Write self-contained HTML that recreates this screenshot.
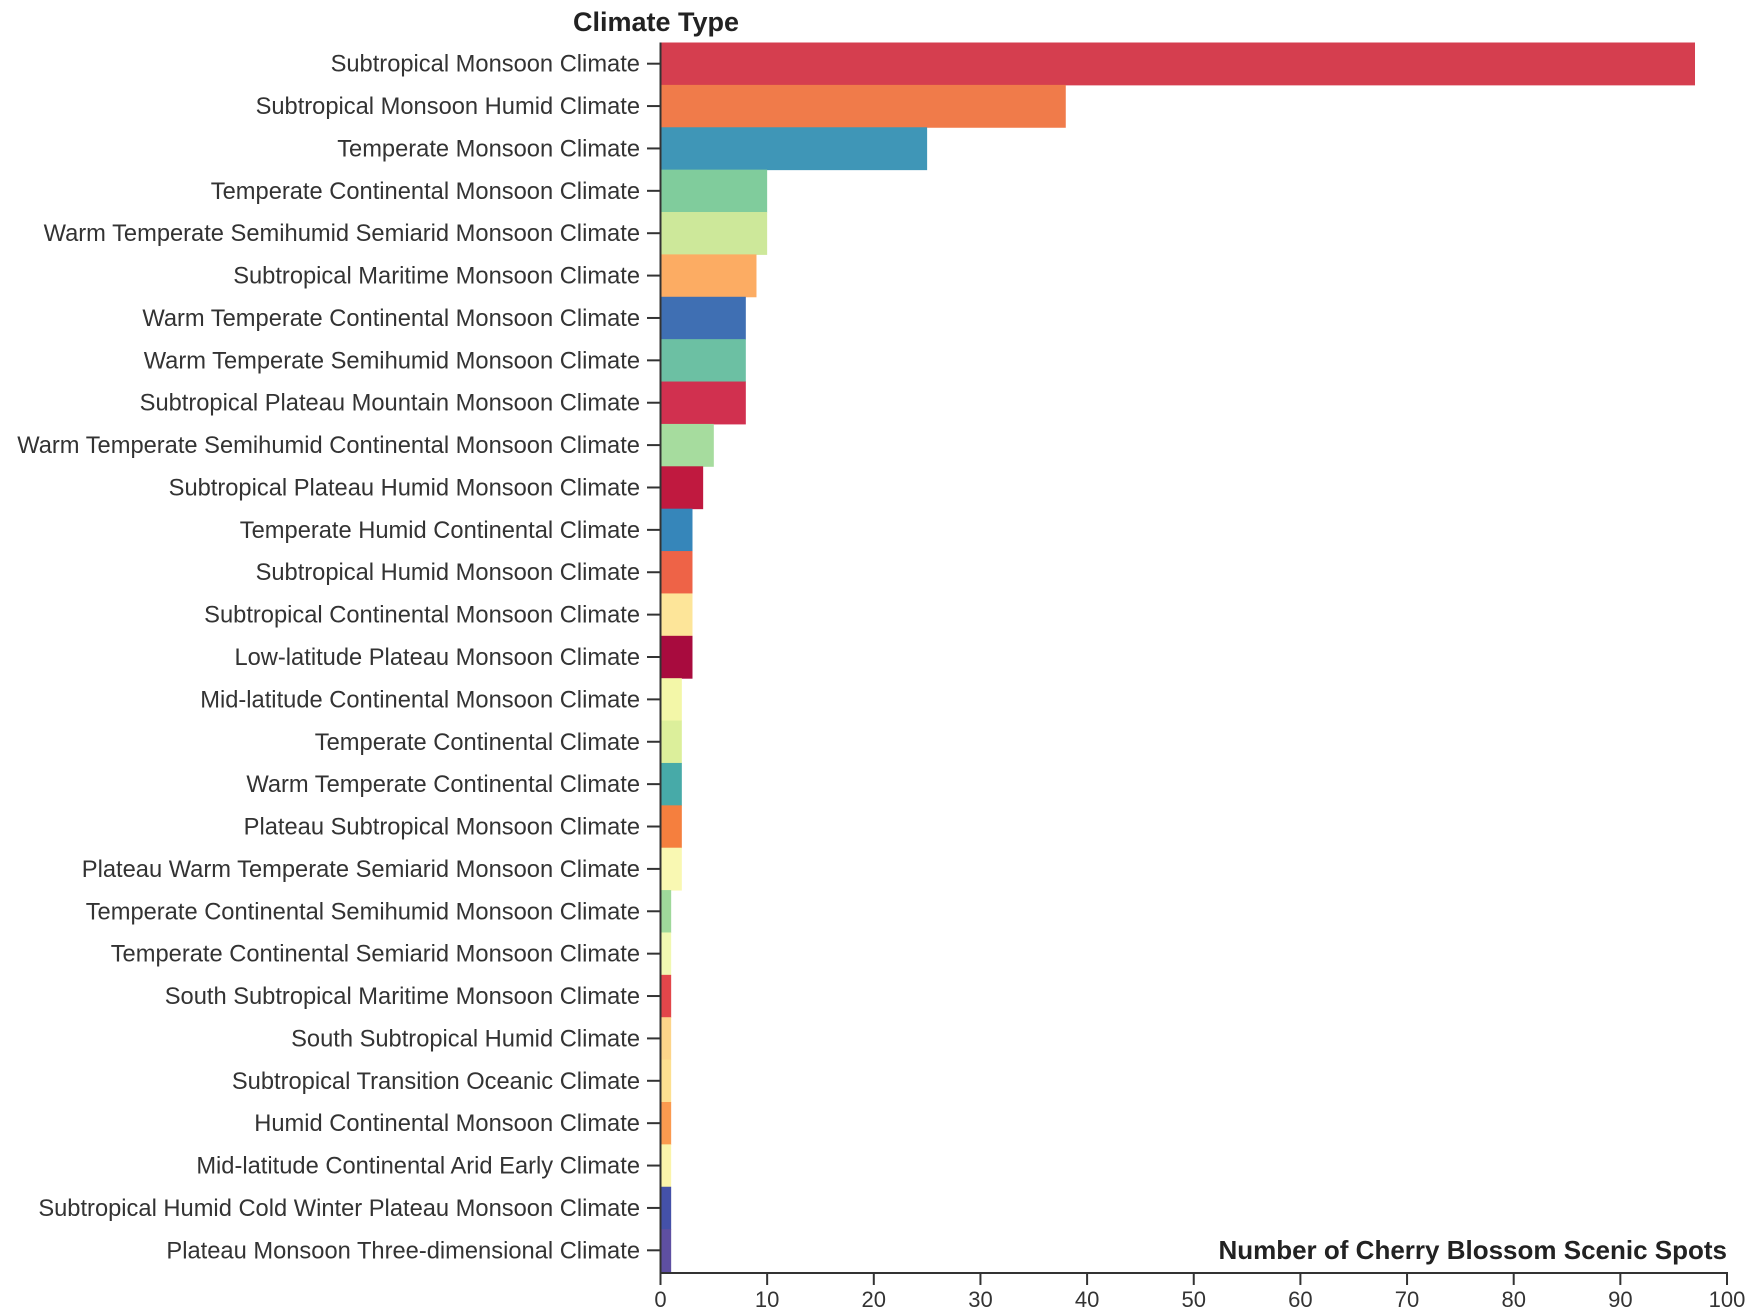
<!DOCTYPE html>
<html><head><meta charset="utf-8">
<style>
html,body{margin:0;padding:0;background:#fff;}
svg{display:block;font-family:"Liberation Sans",sans-serif;}
</style></head>
<body>
<svg id="chart" width="1755" height="1314" viewBox="0 0 1755 1314" xmlns="http://www.w3.org/2000/svg">
<text x="573" y="31" font-size="27" font-weight="bold" fill="#222">Climate Type</text>
<text x="1727" y="1259" font-size="26" font-weight="bold" fill="#222" text-anchor="end">Number of Cherry Blossom Scenic Spots</text>
<g id="bars"></g>
<g id="yaxis"></g>
<g id="xaxis"></g>
</svg>
<script>
const categories = ["Subtropical Monsoon Climate","Subtropical Monsoon Humid Climate","Temperate Monsoon Climate","Temperate Continental Monsoon Climate","Warm Temperate Semihumid Semiarid Monsoon Climate","Subtropical Maritime Monsoon Climate","Warm Temperate Continental Monsoon Climate","Warm Temperate Semihumid Monsoon Climate","Subtropical Plateau Mountain Monsoon Climate","Warm Temperate Semihumid Continental Monsoon Climate","Subtropical Plateau Humid Monsoon Climate","Temperate Humid Continental Climate","Subtropical Humid Monsoon Climate","Subtropical Continental Monsoon Climate","Low-latitude Plateau Monsoon Climate","Mid-latitude Continental Monsoon Climate","Temperate Continental Climate","Warm Temperate Continental Climate","Plateau Subtropical Monsoon Climate","Plateau Warm Temperate Semiarid Monsoon Climate","Temperate Continental Semihumid Monsoon Climate","Temperate Continental Semiarid Monsoon Climate","South Subtropical Maritime Monsoon Climate","South Subtropical Humid Climate","Subtropical Transition Oceanic Climate","Humid Continental Monsoon Climate","Mid-latitude Continental Arid Early Climate","Subtropical Humid Cold Winter Plateau Monsoon Climate","Plateau Monsoon Three-dimensional Climate"];
const values = [97,38,25,10,10,9,8,8,8,5,4,3,3,3,3,2,2,2,2,2,1,1,1,1,1,1,1,1,1];
const colors = ["#d53e4f","#f07b4a","#3f96b7","#80cc9c","#cde89a","#fcac63","#3f6fb3","#6cc0a3","#d1304f","#a6dc9e","#c0193f","#3686ba","#ee6347","#fde599","#a80b3e","#f3f7a8","#dcef9b","#47aaa8","#f57f3e","#f9f8b2","#9fd89b","#f1f8b2","#e2464a","#fdd58a","#fde091","#fb9a4f","#fbf4ab","#4451a8","#5e4fa2"];
const xTicks = [0,10,20,30,40,50,60,70,80,90,100];

const NS="http://www.w3.org/2000/svg";
const x0=660.5, x1=1727, yTop=42.5, yBot=1271.5, axisY=1273;
function xScale(v){return x0+(x1-x0)*v/100;}
const band=(yBot-yTop)/categories.length;
function yScale(i){return yTop+i*band;}
function mk(tag,attrs,parent){const e=document.createElementNS(NS,tag);for(const k in attrs)e.setAttribute(k,attrs[k]);parent.appendChild(e);return e;}

const gb=document.getElementById('bars'), gy=document.getElementById('yaxis'), gx=document.getElementById('xaxis');
categories.forEach((c,i)=>{
  const r=mk('rect',{x:xScale(0),y:yScale(i),width:xScale(values[i])-xScale(0),height:band+0.5,fill:colors[i]},gb);
  
  
  const cy=yScale(i)+band/2;
  const t=mk('line',{x1:647,x2:x0,y1:cy,y2:cy,stroke:'#333','stroke-width':2},gy);
  
  
  const l=mk('text',{x:640,y:cy+8,'font-size':23.7,fill:'#333','text-anchor':'end'},gy);
  l.textContent=c;
  
  
});
const yl=mk('line',{x1:x0,x2:x0,y1:yTop,y2:axisY,stroke:'#333','stroke-width':2},gy);


const xl=mk('line',{x1:x0-1,x2:x1+1,y1:axisY,y2:axisY,stroke:'#333','stroke-width':2},gx);


xTicks.forEach(v=>{
  const t=mk('line',{x1:xScale(v),x2:xScale(v),y1:axisY,y2:axisY+12,stroke:'#333','stroke-width':2},gx);
  
  
  const l=mk('text',{x:xScale(v),y:1307,'font-size':22,fill:'#333','text-anchor':'middle'},gx);
  l.textContent=v;
  
  
});
</script>
</body></html>
